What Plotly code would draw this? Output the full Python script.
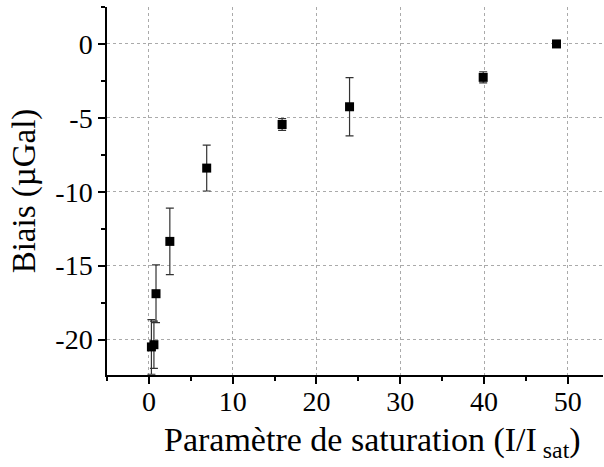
import plotly.graph_objects as go

x_sat = [0.3, 0.6, 0.85, 2.5, 6.9, 15.9, 23.95, 39.9, 48.65]
bias = [-20.5, -20.35, -16.9, -13.36, -8.4, -5.45, -4.25, -2.26, 0.0]
err = [1.85, 1.6, 1.95, 2.25, 1.55, 0.4, 1.97, 0.38, 0.0]
x_ticks = [0, 10, 20, 30, 40, 50]
y_ticks = [-20, -15, -10, -5, 0]
y_ticktext = ["-20", "-15", "-10", "-5", "0"]

fig = go.Figure()
fig.add_trace(go.Scatter(
    x=x_sat, y=bias, mode="markers",
    marker=dict(symbol="square", size=9, color="black"),
    error_y=dict(type="data", array=err, visible=True, color="#333333", thickness=1.2, width=4),
    showlegend=False,
))

font = "Liberation Serif, Times New Roman, serif"
fig.update_layout(
    width=604, height=467,
    margin=dict(l=107, r=1, t=7, b=92),
    paper_bgcolor="white", plot_bgcolor="white",
    font=dict(family=font, color="black"),
)
fig.update_xaxes(
    range=[-5, 54.2], tickvals=x_ticks,
    ticks="outside", ticklen=7, tickwidth=1.5, tickcolor="black",
    minor=dict(dtick=5, tick0=0, ticks="outside", ticklen=4, tickcolor="black", showgrid=False),
    showline=True, linecolor="black", linewidth=1.5,
    showgrid=True, gridcolor="#aaaaaa", griddash="dot", gridwidth=1,
    zeroline=False, tickfont=dict(size=28, family=font), automargin=False,
    ticklabelstandoff=-6,
)
fig.update_yaxes(
    range=[-22.4, 2.5], tickvals=y_ticks, ticktext=y_ticktext,
    ticks="outside", ticklen=7, tickwidth=1.5, tickcolor="black",
    minor=dict(dtick=2.5, tick0=0, ticks="outside", ticklen=4, tickcolor="black", showgrid=False),
    showline=True, linecolor="black", linewidth=1.5,
    showgrid=True, gridcolor="#aaaaaa", griddash="dot", gridwidth=1,
    zeroline=False, tickfont=dict(size=28, family=font), automargin=False,
    title=dict(text="Biais (µGal)", font=dict(size=33, family=font), standoff=10),
)
fig.add_annotation(
    text="Paramètre de saturation (I/I<sub> sat</sub>)",
    xref="paper", yref="paper", x=0.535, y=-0.183,
    xanchor="center", yanchor="middle", showarrow=False,
    font=dict(size=34, family=font, color="black"),
)
fig.write_html("out.html", config={"displayModeBar": False},
               post_script="document.body.style.margin='0';")
